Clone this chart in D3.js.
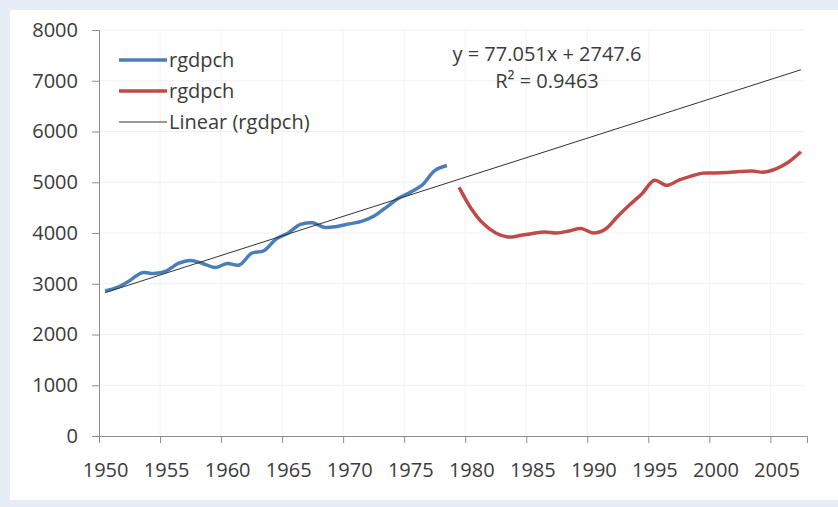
<!DOCTYPE html>
<html>
<head>
<meta charset="utf-8">
<script src="https://cdn.jsdelivr.net/npm/d3@7"></script>
<style>
  body { margin: 0; background: #e7edf6; }
  svg { display: block; }
</style>
</head>
<body>
<div id="chart"></div>
<script>
// rgdpch, 1950-1978 (blue) and 1979-2007 (red)
const yearsA = d3.range(1950, 1979);
const valuesA = [2860, 2930, 3060, 3215, 3200, 3250, 3400, 3460, 3400, 3320,
                 3400, 3370, 3600, 3650, 3880, 4000, 4170, 4200, 4110, 4130,
                 4180, 4230, 4330, 4500, 4680, 4800, 4950, 5230, 5330];
const yearsB = d3.range(1979, 2008);
const valuesB = [4900, 4480, 4180, 4000, 3920, 3950, 3990, 4020, 4000, 4040,
                 4090, 4000, 4080, 4330, 4560, 4780, 5040, 4940, 5040, 5120,
                 5180, 5180, 5190, 5210, 5220, 5200, 5270, 5400, 5600];
// Excel trendline y = a*x + b, x = category index starting at 1
const trendCoef = [77.051, 2747.6];
const legendLabels = ["rgdpch", "rgdpch", "Linear (rgdpch)"];
const eqLabels = ["y = 77.051x + 2747.6", "R² = 0.9463"];
const yTicks = [0, 1000, 2000, 3000, 4000, 5000, 6000, 7000, 8000];
const xLabelYears = d3.range(1950, 2006, 5);

const width = 838, height = 507;
const font = "'Open Sans', sans-serif";
const fontSize = "20px";
const textColor = "#3b3b3b";

const svg = d3.select("#chart").append("svg")
  .attr("width", width)
  .attr("height", height);

svg.append("rect")
  .attr("x", 10).attr("y", 10)
  .attr("width", width - 10).attr("height", 490)
  .attr("fill", "#fff");

const x = d3.scaleLinear().domain([1949.5, 2007.5]).range([99, 807]);
const y = d3.scaleLinear().domain([0, 8000]).range([436, 30]);

// gridlines
svg.append("g")
  .selectAll("line.h")
  .data(yTicks.slice(1))
  .join("line")
  .attr("x1", 99).attr("x2", 805)
  .attr("y1", d => y(d)).attr("y2", d => y(d))
  .attr("stroke", "#f0f0f0");

svg.append("g")
  .selectAll("line.v")
  .data(xLabelYears.map(d => d - 0.5).slice(1))
  .join("line")
  .attr("x1", d => x(d)).attr("x2", d => x(d))
  .attr("y1", y(8000)).attr("y2", y(0))
  .attr("stroke", "#f2f2f2");

// y axis
const yAxis = svg.append("g")
  .attr("transform", "translate(99,0)")
  .call(d3.axisLeft(y).tickValues(yTicks).tickSize(7).tickPadding(14).tickFormat(d3.format("d")));
yAxis.select(".domain").attr("stroke", "#8c8c8c");
yAxis.selectAll(".tick line").attr("stroke", "#8c8c8c");
yAxis.selectAll("text")
  .attr("fill", textColor)
  .style("font-family", font)
  .style("font-size", fontSize);

// x axis: tick marks between categories, labels on categories
const xTickAxis = svg.append("g")
  .attr("transform", `translate(0,${y(0)})`)
  .call(d3.axisBottom(x).tickValues(xLabelYears.map(d => d - 0.5)).tickSize(7).tickFormat(""));
xTickAxis.select(".domain").attr("stroke", "#8c8c8c");
xTickAxis.selectAll(".tick line").attr("stroke", "#8c8c8c");

const xLabelAxis = svg.append("g")
  .attr("transform", `translate(0,${y(0)})`)
  .call(d3.axisBottom(x).tickValues(xLabelYears).tickSize(0).tickPadding(27).tickFormat(d3.format("d")));
xLabelAxis.select(".domain").remove();
xLabelAxis.selectAll("text")
  .attr("fill", textColor)
  .style("font-family", font)
  .style("font-size", fontSize);

// series
const line = d3.line()
  .x(d => x(d[0]))
  .y(d => y(d[1]))
  .curve(d3.curveCatmullRom);

svg.append("path")
  .datum(d3.zip(yearsA, valuesA))
  .attr("d", line)
  .attr("fill", "none")
  .attr("stroke", "#4a7ebb")
  .attr("stroke-width", 3.5)
  .attr("stroke-linejoin", "round");

svg.append("path")
  .datum(d3.zip(yearsB, valuesB))
  .attr("d", line)
  .attr("fill", "none")
  .attr("stroke", "#be4b48")
  .attr("stroke-width", 3.5)
  .attr("stroke-linejoin", "round");

// linear trendline
const trendEnds = [1950, 2007].map(yr => [yr, trendCoef[0] * (yr - 1949) + trendCoef[1]]);
svg.append("path")
  .datum(trendEnds)
  .attr("d", d3.line().x(d => x(d[0])).y(d => y(d[1])))
  .attr("stroke", "#333")
  .attr("stroke-width", 1);

// legend
const legendColors = ["#4a7ebb", "#be4b48", "#333"];
const legendWidths = [3.5, 3.5, 1];
const legend = svg.append("g");
legendLabels.forEach((label, i) => {
  const ly = 60 + i * 31;
  legend.append("line")
    .attr("x1", 119).attr("x2", 167)
    .attr("y1", ly).attr("y2", ly)
    .attr("stroke", legendColors[i])
    .attr("stroke-width", legendWidths[i]);
  legend.append("text")
    .attr("x", 169).attr("y", ly)
    .attr("dy", "0.35em")
    .attr("fill", textColor)
    .style("font-family", font)
    .style("font-size", fontSize)
    .text(label);
});

// trendline equation
svg.append("g")
  .selectAll("text")
  .data(eqLabels)
  .join("text")
  .attr("x", 547)
  .attr("y", (d, i) => 54 + i * 27)
  .attr("dy", "0.35em")
  .attr("text-anchor", "middle")
  .attr("fill", textColor)
  .style("font-family", font)
  .style("font-size", fontSize)
  .text(d => d);
</script>
</body>
</html>
